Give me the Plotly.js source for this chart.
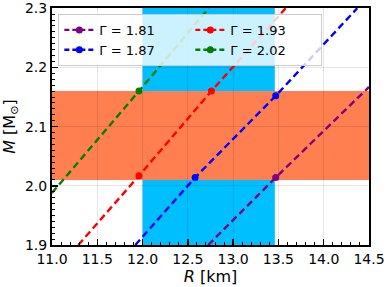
<!DOCTYPE html>
<html>
<head>
<meta charset="utf-8">
<script src="https://cdn.plot.ly/plotly-3.0.1.min.js"></script>
<style>html,body{margin:0;padding:0;background:#fff;}#chart{width:389px;height:287px;}</style>
</head>
<body>
<div id="chart"></div>
<script>
// Constraint bands
var massBand = [2.01, 2.16];      // M [Msun]
var radiusBand = [12.0, 13.46];   // R [km]

// Gamma labels
var gammaNames = ["Γ = 1.81", "Γ = 1.87", "Γ = 1.93", "Γ = 2.02"];
var gammaColors = ["purple", "blue", "red", "green"];

// Axis ticks
var xTicks = [11.0, 11.5, 12.0, 12.5, 13.0, 13.5, 14.0, 14.5];
var yTicks = [1.9, 2.0, 2.1, 2.2, 2.3];

// Dashed M-R lines (R, M)
var lineR_181 = [12.725, 13.47, 14.5];
var lineM_181 = [1.9, 2.014, 2.167];
var lineR_187 = [11.92, 12.58, 13.47, 14.37];
var lineM_187 = [1.9, 2.014, 2.152, 2.3];
var lineR_193 = [11.29, 11.96, 12.76, 13.58];
var lineM_193 = [1.9, 2.017, 2.16, 2.3];
var lineR_202 = [11.0, 11.96, 12.73];
var lineM_202 = [1.988, 2.16, 2.3];

// Marked points
var ptR_181 = [13.47];
var ptM_181 = [2.014];
var ptR_187 = [12.58, 13.47];
var ptM_187 = [2.014, 2.152];
var ptR_193 = [11.96, 12.76];
var ptM_193 = [2.017, 2.16];
var ptR_202 = [11.96];
var ptM_202 = [2.16];

var lineRs = [lineR_181, lineR_187, lineR_193, lineR_202];
var lineMs = [lineM_181, lineM_187, lineM_193, lineM_202];
var ptRs = [ptR_181, ptR_187, ptR_193, ptR_202];
var ptMs = [ptM_181, ptM_187, ptM_193, ptM_202];
var legendRank = [1, 3, 2, 4];

var dashPat = "7px,4px";
var traces = [];
for (var i = 0; i < 4; i++) {
  traces.push({
    x: lineRs[i], y: lineMs[i], mode: "lines", showlegend: false, hoverinfo: "skip",
    line: {color: gammaColors[i], width: 2.4, dash: dashPat}
  });
  traces.push({
    x: ptRs[i], y: ptMs[i], mode: "markers", showlegend: false,
    marker: {color: gammaColors[i], size: 7}
  });
  traces.push({
    x: [null], y: [null], mode: "lines+markers", name: gammaNames[i],
    legendrank: legendRank[i],
    line: {color: gammaColors[i], width: 2.4, dash: "5px,3px"},
    marker: {color: gammaColors[i], size: 7}
  });
}

var layout = {
  width: 389, height: 287,
  margin: {l: 52, r: 20, t: 8, b: 42},
  paper_bgcolor: "#fff", plot_bgcolor: "#fff",
  font: {family: "DejaVu Sans", size: 14, color: "#000"},
  showlegend: true,
  legend: {
    orientation: "h", x: 0.02, y: 0.975, xanchor: "left", yanchor: "top",
    bgcolor: "rgba(255,255,255,0.8)", bordercolor: "#cccccc", borderwidth: 1,
    font: {family: "DejaVu Sans", size: 13, color: "#000"},
    entrywidth: 86, traceorder: "normal", itemwidth: 30
  },
  xaxis: {
    range: [11.0, 14.5], tickvals: xTicks, tickformat: ".1f",
    ticks: "inside", ticklen: 6, tickwidth: 1.5, tickcolor: "#000",
    showline: true, linewidth: 2, linecolor: "#000", mirror: true,
    showgrid: true, gridcolor: "rgba(0,0,0,0.1)", gridwidth: 1,
    zeroline: false,
    minor: {dtick: 0.1, tick0: 11, ticks: "inside", ticklen: 3, tickwidth: 1, tickcolor: "#000", showgrid: false},
    title: {text: "<i>R</i> [km]", font: {size: 16}, standoff: 4}
  },
  yaxis: {
    range: [1.9, 2.3004], tickvals: yTicks, tickformat: ".1f",
    ticks: "inside", ticklen: 6, tickwidth: 1.5, tickcolor: "#000",
    showline: true, linewidth: 2, linecolor: "#000", mirror: true,
    showgrid: true, gridcolor: "rgba(0,0,0,0.1)", gridwidth: 1,
    zeroline: false,
    minor: {dtick: 0.01, tick0: 1.9, ticks: "inside", ticklen: 3, tickwidth: 1, tickcolor: "#000", showgrid: false},
    title: {text: "<i>M</i> [M<sub>⊙</sub>]", font: {size: 16}, standoff: 6}
  },
  shapes: [
    {type: "rect", xref: "x", yref: "paper", x0: radiusBand[0], x1: radiusBand[1], y0: 0, y1: 1,
     fillcolor: "#00BFFF", line: {width: 0}, layer: "below"},
    {type: "rect", xref: "paper", yref: "y", x0: 0, x1: 1, y0: massBand[0], y1: massBand[1],
     fillcolor: "#FF7F50", line: {width: 0}, layer: "below"}
  ]
};

Plotly.newPlot("chart", traces, layout, {displayModeBar: false, staticPlot: true});
</script>
</body>
</html>
